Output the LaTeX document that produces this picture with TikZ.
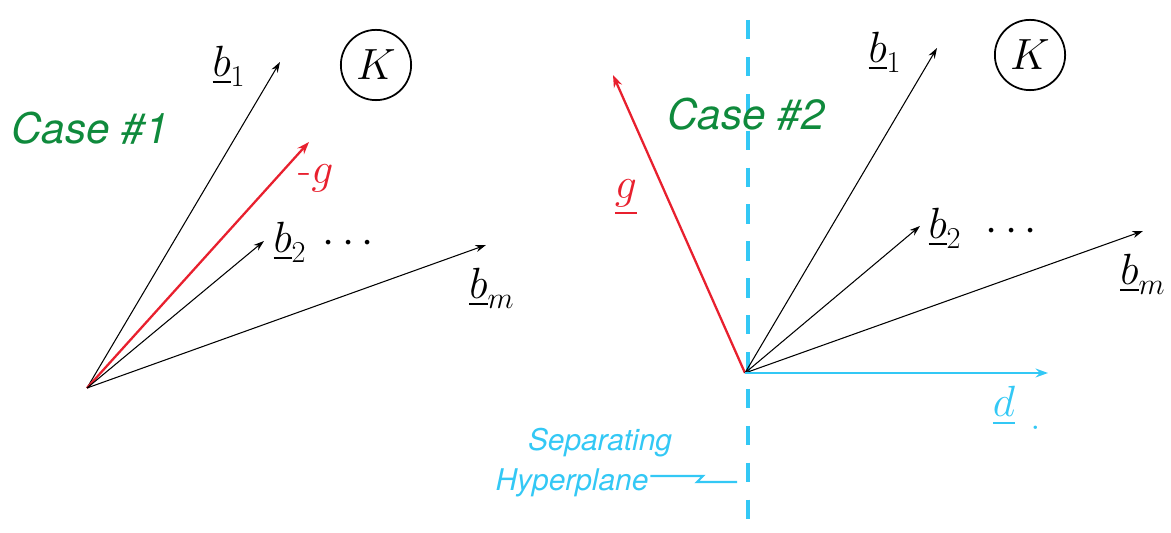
\documentclass[tikz,border=0pt]{standalone}
\usepackage{amsmath}
\usepackage{amssymb}
\usepackage{fontspec}
\newfontfamily\handfont{TeX Gyre Heros}
\usetikzlibrary{arrows.meta}

\definecolor{hpblue}{HTML}{33C8F5}
\definecolor{casegreen}{HTML}{0F8A3C}
\definecolor{gred}{HTML}{E8202E}

\tikzset{
  vec/.style={-{Stealth[length=6pt,width=4pt]}, line width=0.6pt},
  gvec/.style={-{Stealth[length=7pt,width=5pt]}, line width=1.3pt, gred},
  dvec/.style={-{Stealth[length=7pt,width=5pt]}, line width=1.6pt, hpblue},
  lab/.style={font=\fontsize{24}{28}\selectfont, inner sep=1pt},
  casetxt/.style={font=\handfont\itshape\fontsize{24}{28}\selectfont, casegreen},
  hptxt/.style={font=\handfont\itshape\fontsize{17}{24}\selectfont, hpblue, inner sep=1pt},
  conebox/.style={draw, circle, line width=1pt, minimum size=40pt, inner sep=0pt,
    font=\fontsize{26}{30}\selectfont}
}

\begin{document}
\begin{tikzpicture}[x=0.02cm, y=-0.02cm]
  \useasboundingbox (0,0) rectangle (1171,533);

  % case 1
  \coordinate (o1) at (87,388);
  \coordinate (b1a) at (280,62);
  \coordinate (ga) at (309,142);
  \coordinate (b2a) at (264,241);
  \coordinate (bma) at (486,245);

  \node[casetxt] (case1) at (90,128) {Case \#1};
  \node[conebox] (k1) at (376,65) {$K$};
  \node[lab] (lb1a) at (229,66) {$\underline{b}_1$};
  \node[lab, gred] (lga) at (316,178) {$\text{-}g$};
  \node[lab] (lb2a) at (290,242) {$\underline{b}_2$};
  \node[lab] (dotsa) at (352,244) {$\cdots$};
  \node[lab] (lbma) at (492,288) {$\underline{b}_m$};

  \draw[vec] (o1) -- (b1a);
  \draw[gvec] (o1) -- (ga);
  \draw[vec] (o1) -- (b2a);
  \draw[vec] (o1) -- (bma);

  % case 2
  \coordinate (o2) at (745,373);
  \coordinate (b1b) at (937,48);
  \coordinate (gb) at (613,75);
  \coordinate (b2b) at (920,226);
  \coordinate (bmb) at (1143,231);
  \coordinate (db) at (1048,373);
  \coordinate (hptop) at (748,20);
  \coordinate (hpbot) at (748,533);
  \coordinate (hpmid) at (737,482);

  \draw[hpblue, line width=2pt, dash pattern=on 11pt off 10pt] (hptop) -- (hpbot);

  \node[casetxt] (case2) at (746,114) {Case \#2};
  \node[conebox] (k2) at (1030,55) {$K$};
  \node[lab] (lb1b) at (885,52) {$\underline{b}_1$};
  \node[lab, gred] (lgb) at (626,198) {$\underline{g}$};
  \node[lab] (lb2b) at (945,228) {$\underline{b}_2$};
  \node[lab] (dotsb) at (1015,232) {$\cdots$};
  \node[lab] (lbmb) at (1143,274) {$\underline{b}_m$};
  \node[lab, hpblue] (ldb) at (1004,406) {$\underline{d}$};
  \node[lab, hpblue] (dotd) at (1036,428) {.};
  \node[hptxt] (hp1) at (600,443) {Separating};
  \node[hptxt] (hp2) at (572,483) {Hyperplane};

  \draw[gvec] (o2) -- (gb);
  \draw[vec] (o2) -- (b1b);
  \draw[vec] (o2) -- (b2b);
  \draw[vec] (o2) -- (bmb);
  \draw[dvec] (o2) -- (db);
  \draw[hpblue, line width=1.2pt] (hp2.east |- 0,476) -- (703,476) -- (697,482) -- (hpmid);
\end{tikzpicture}
\end{document}
